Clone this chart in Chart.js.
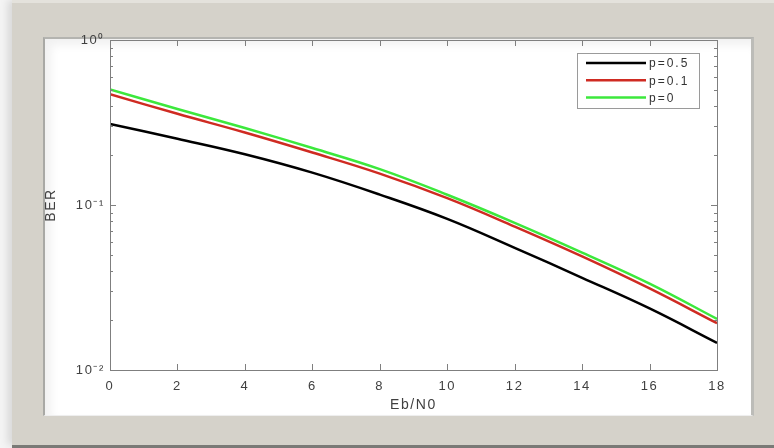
<!DOCTYPE html>
<html>
<head>
<meta charset="utf-8">
<script src="https://cdn.jsdelivr.net/npm/chart.js@4/dist/chart.umd.min.js"></script>
<style>
  html, body { margin:0; padding:0; width:774px; height:448px; overflow:hidden; background:#f4f4f4; }
  #frame { position:absolute; left:12px; top:0; width:762px; height:445px; background:#d5d2ca;
           box-shadow:-4px 0 8px rgba(0,0,0,0.12); border-top:3px solid #e4e2dc; box-sizing:border-box; }
  #bottomband { position:absolute; left:12px; top:445px; width:762px; height:3px; background:#7a7a76; }
  #panel { position:absolute; left:43px; top:37px; width:711px; height:379px; background:#ffffff;
           box-sizing:border-box; border-left:2px solid #a9a9a5; border-top:2px solid #b4b4b0;
           border-right:3px solid #bcbcb8; border-bottom:1px solid #eeeeee;
           box-shadow: inset 6px 6px 10px rgba(0,0,0,0.06); }
  #c { position:absolute; left:0; top:0; }
</style>
</head>
<body>
<div id="frame"></div>
<div id="bottomband"></div>
<div id="panel"></div>
<canvas id="c" width="774" height="448"></canvas>
<script>
// ---- data ----
const ebn0 = [0, 2, 4, 6, 8, 10, 12, 14, 16, 18];
const berP05 = [0.310, 0.252, 0.203, 0.157, 0.1156, 0.0824, 0.0550, 0.0362, 0.0236, 0.0146];
const berP01 = [0.469, 0.357, 0.275, 0.208, 0.155, 0.110, 0.0740, 0.0488, 0.0312, 0.0192];
const berP0  = [0.502, 0.382, 0.293, 0.2215, 0.165, 0.1154, 0.0780, 0.0515, 0.0334, 0.0204];
const seriesLabels = ['p=0.5', 'p=0.1', 'p=0'];
const xTicks = [0, 2, 4, 6, 8, 10, 12, 14, 16, 18];
const yTickValues = [0.01, 0.1, 1];
const yTickLabels = ['10\u207B\u00B2', '10\u207B\u00B9', '10\u2070'];
const xTitle = 'Eb/N0';
const yTitle = 'BER';

const colors = ['#000000', '#cf2b22', '#3ce83c'];
const toPts = arr => ebn0.map((x, i) => ({x: x, y: arr[i]}));

const axisColor = '#7f7f7f';
const textColor = '#404040';
const fontFam = '"Liberation Sans", Arial, sans-serif';

const spacing = {
  id: 'spacing',
  beforeDraw(chart) { try { chart.ctx.letterSpacing = '1.6px'; } catch (e) {} }
};

const boxTicks = {
  id: 'boxTicks',
  afterDatasetsDraw(chart) {
    const ctx = chart.ctx, a = chart.chartArea;
    const xs = chart.scales.x, ys = chart.scales.y;
    ctx.save();
    ctx.strokeStyle = axisColor;
    ctx.lineWidth = 1;
    ctx.strokeRect(Math.round(a.left) + 0.5, Math.round(a.top) + 0.5,
                   Math.round(a.right - a.left), Math.round(a.bottom - a.top));
    ctx.beginPath();
    xTicks.forEach(v => {
      const px = Math.round(xs.getPixelForValue(v)) + 0.5;
      ctx.moveTo(px, a.bottom); ctx.lineTo(px, a.bottom - 6);
      ctx.moveTo(px, a.top); ctx.lineTo(px, a.top + 6);
    });
    for (let d = -2; d < 0; d++) {
      for (let m = 1; m <= 9; m++) {
        const v = m * Math.pow(10, d);
        const py = Math.round(ys.getPixelForValue(v)) + 0.5;
        const len = m === 1 ? 6 : 3;
        ctx.moveTo(a.left, py); ctx.lineTo(a.left + len, py);
        ctx.moveTo(a.right, py); ctx.lineTo(a.right - len, py);
      }
    }
    ctx.stroke();

    // legend
    const lx0 = a.right - 140, ly0 = a.top + 13, lw = 122, lh = 55;
    ctx.fillStyle = '#ffffff';
    ctx.fillRect(lx0, ly0, lw, lh);
    ctx.strokeStyle = '#9a9a9a';
    ctx.strokeRect(lx0 + 0.5, ly0 + 0.5, lw, lh);
    ctx.font = '12px ' + fontFam;
    ctx.textBaseline = 'middle';
    ctx.textAlign = 'left';
    try { ctx.letterSpacing = '2px'; } catch (e) {}
    chart.data.datasets.forEach((ds, i) => {
      const yy = ly0 + 10 + i * 17.3;
      ctx.strokeStyle = ds.borderColor;
      ctx.lineWidth = 2.5;
      ctx.beginPath();
      ctx.moveTo(lx0 + 9, yy); ctx.lineTo(lx0 + 69, yy);
      ctx.stroke();
      ctx.fillStyle = '#333333';
      ctx.fillText(ds.label, lx0 + 72, yy + 1);
    });
    ctx.restore();
  }
};

new Chart(document.getElementById('c'), {
  type: 'line',
  data: {
    datasets: [
      {label: seriesLabels[0], data: toPts(berP05), borderColor: colors[0]},
      {label: seriesLabels[1], data: toPts(berP01), borderColor: colors[1]},
      {label: seriesLabels[2], data: toPts(berP0),  borderColor: colors[2]}
    ].map(d => Object.assign(d, {borderWidth: 2.5, pointRadius: 0, fill: false, tension: 0.4}))
  },
  options: {
    responsive: false,
    animation: false,
    events: [],
    layout: { padding: { left: 42, top: 40, right: 57, bottom: 33 } },
    plugins: { legend: { display: false }, tooltip: { enabled: false } },
    scales: {
      x: {
        type: 'linear', min: 0, max: 18,
        afterBuildTicks: s => { s.ticks = xTicks.map(v => ({value: v})); },
        afterFit: s => { s.height = 45; },
        grid: { display: false, drawTicks: false },
        border: { display: false },
        ticks: { color: textColor, font: { size: 13, family: fontFam }, padding: 9, maxRotation: 0 },
        title: { display: true, text: xTitle, color: textColor, padding: { top: 0, bottom: 1 },
                 font: { size: 14, family: fontFam } }
      },
      y: {
        type: 'logarithmic', min: 0.01, max: 1,
        afterBuildTicks: s => { s.ticks = yTickValues.map(v => ({value: v})); },
        afterFit: s => { s.width = 68; },
        grid: { display: false, drawTicks: false },
        border: { display: false },
        ticks: { color: textColor, font: { size: 13, family: fontFam }, padding: 5,
                 callback: (v) => { const i = yTickValues.indexOf(v); return i >= 0 ? yTickLabels[i] : ''; } },
        title: { display: true, text: yTitle, color: textColor, padding: { top: 1, bottom: 0 },
                 font: { size: 14, family: fontFam } }
      }
    }
  },
  plugins: [spacing, boxTicks]
});
</script>
</body>
</html>
